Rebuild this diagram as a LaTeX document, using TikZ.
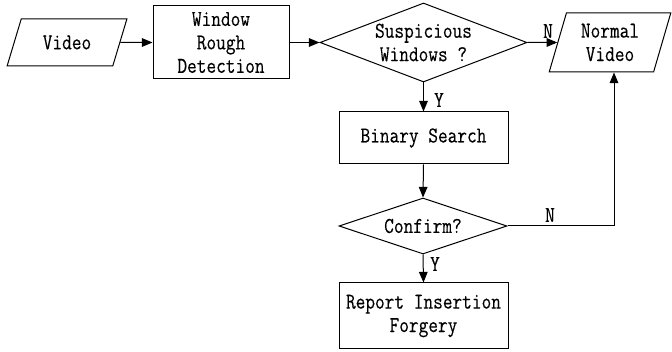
\documentclass[tikz,border=0pt]{standalone}
\usepackage{fontspec}
\setmainfont{Latin Modern Mono}[FakeStretch=0.83,FakeBold=0.3]
\usetikzlibrary{shapes.geometric,arrows.meta}
\tikzset{
  base/.style={draw, line width=0.75pt, align=center, inner sep=0pt,
    font=\fontsize{17pt}{17.6pt}\selectfont},
  procbox/.style={base, rectangle},
  iobox/.style={base, trapezium, trapezium stretches=true},
  decision/.style={base, diamond, aspect=2.6},
  flow/.style={line width=0.75pt, -{Triangle[length=8pt,width=6.5pt]}},
  lbl/.style={font=\fontsize{17pt}{17pt}\selectfont, inner sep=0pt}
}
\begin{document}
\begin{tikzpicture}[x=0.75pt,y=-0.75pt]
\useasboundingbox (0,0) rectangle (672,352);

% input / output parallelograms, process boxes and decisions
\node[iobox, trapezium left angle=62, trapezium right angle=118,
  minimum width=90pt, minimum height=35.25pt] (video) at (67,42.5) {Video};
\node[procbox, minimum width=102pt, minimum height=54.75pt] (rough) at (221,42.5)
  {Window\\Rough\\Detection};
\node[decision, minimum width=155.25pt, minimum height=59.25pt] (susp) at (423.5,42.5)
  {Suspicious\\Windows ?};
\node[iobox, trapezium left angle=73, trapezium right angle=107,
  minimum width=91.5pt, minimum height=44.25pt] (normal) at (610,42.5)
  {Normal\\Video};
\node[procbox, minimum width=126.75pt, minimum height=39pt] (binary) at (423.5,138)
  {Binary Search};
\node[decision, minimum width=126pt, minimum height=42pt] (confirm) at (423,226)
  {Confirm?};
\node[procbox, minimum width=126.75pt, minimum height=49.5pt] (report) at (423.5,316)
  {Report Insertion\\Forgery};

\coordinate (turn) at (614,226);

% connectors
\draw[flow] (video) -- (rough);
\draw[flow] (rough) -- (susp);
\draw[flow] (susp.east) -- (normal);
\draw[flow] (susp.south) -- (binary.north);
\draw[flow] (binary.south) -- (confirm.north);
\draw[flow] (confirm.south) -- (report.north);
\draw[flow] (confirm.east) -- (turn) -- (turn |- normal.south);

% branch labels
\node[lbl] (n1) at (548,31) {N};
\node[lbl] (y1) at (439,100) {Y};
\node[lbl] (n2) at (550,215) {N};
\node[lbl] (y2) at (435,264) {Y};
\end{tikzpicture}
\end{document}
